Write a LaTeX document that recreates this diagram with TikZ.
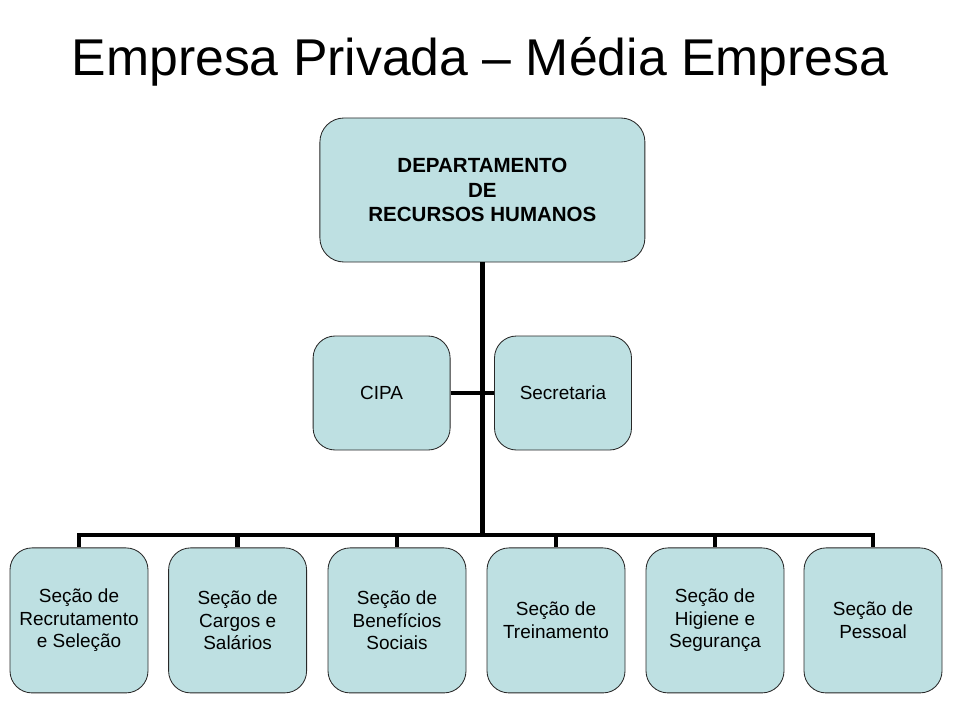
\documentclass[tikz,border=0pt]{standalone}
\usepackage{fontspec}
\setmainfont{Liberation Sans}
\definecolor{boxfill}{RGB}{190,224,226}
\definecolor{boxline}{RGB}{40,40,40}
\begin{document}
\begin{tikzpicture}[
  secbox/.style={rectangle, rounded corners=0.55cm, draw=boxline, line width=0.6pt, fill=boxfill,
    minimum width=3.45cm, minimum height=3.625cm, align=center, inner sep=1pt,
    font=\fontsize{13.5}{16}\selectfont},
  conn/.style={line width=3.5pt, line cap=rect}
]
\useasboundingbox (0,0) rectangle (24,18);

\node (T) at (12,16.45) {\fontsize{36.8}{44}\selectfont Empresa Privada -- Média Empresa};

\node[secbox, minimum width=8.125cm, minimum height=3.6cm, rounded corners=0.6cm,
  font=\bfseries\fontsize{14.6}{17.7}\selectfont] (DRH) at (12.06,13.25) {DEPARTAMENTO\\DE\\RECURSOS HUMANOS};
\node[secbox, minimum width=3.425cm, minimum height=2.85cm] (CIPA) at (9.54,8.175) {CIPA};
\node[secbox, minimum width=3.425cm, minimum height=2.85cm] (SEC)  at (14.075,8.175) {Secretaria};

\node[secbox] (S1) at (1.975,2.49)  {Seção de\\Recrutamento\\e Seleção};
\node[secbox] (S2) at (5.94,2.49)   {Seção de\\Cargos e\\Salários};
\node[secbox] (S3) at (9.925,2.49)  {Seção de\\Benefícios\\Sociais};
\node[secbox] (S4) at (13.9,2.49)   {Seção de\\Treinamento};
\node[secbox] (S5) at (17.875,2.49) {Seção de\\Higiene e\\Segurança};
\node[secbox] (S6) at (21.825,2.49) {Seção de\\Pessoal};

\coordinate (J) at (12.05,4.625);

\draw[conn, line cap=butt] (DRH.south) -- (DRH.south |- J);
\draw[conn, line cap=butt] (CIPA.east) -- (SEC.west);
\draw[conn] (S1.north |- J) -- (S6.north |- J);
\foreach \s in {S1,S2,S3,S4,S5,S6}
  \draw[conn, line cap=butt] (\s.north |- J) -- (\s.north);
\end{tikzpicture}
\end{document}
